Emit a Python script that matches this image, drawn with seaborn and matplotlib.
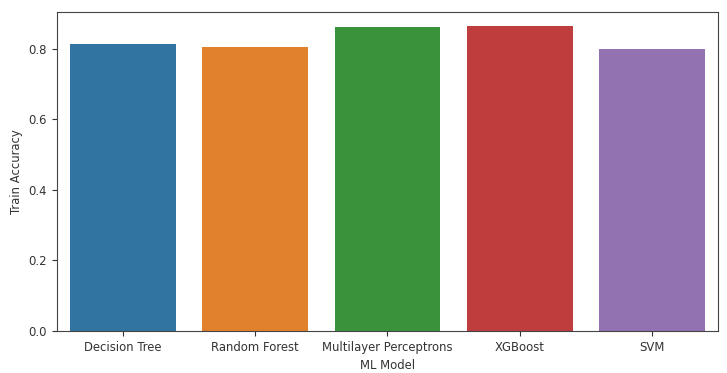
import matplotlib
matplotlib.use("Agg")
import matplotlib.pyplot as plt
import seaborn as sns
import pandas as pd

models = ["Decision Tree", "Random Forest", "Multilayer Perceptrons", "XGBoost", "SVM"]
train_acc = [0.813, 0.806, 0.862, 0.866, 0.800]

df = pd.DataFrame({"ML Model": models, "Train Accuracy": train_acc})

fig = plt.figure(figsize=(7.27, 3.73), dpi=100)
ax = fig.add_axes([0.078, 0.113, 0.910, 0.855])
sns.barplot(data=df, x="ML Model", y="Train Accuracy", hue="ML Model",
            palette="tab10", legend=False, ax=ax)
ax.set_ylim(0, 0.905)
ax.tick_params(labelsize=8.4, colors="#333333")
for s in ax.spines.values():
    s.set_color("#444444")
ax.set_xlabel("ML Model", fontsize=8.4, color="#333333")
ax.set_ylabel("Train Accuracy", fontsize=8.4, color="#333333")
fig.savefig("out.png", dpi=100)
